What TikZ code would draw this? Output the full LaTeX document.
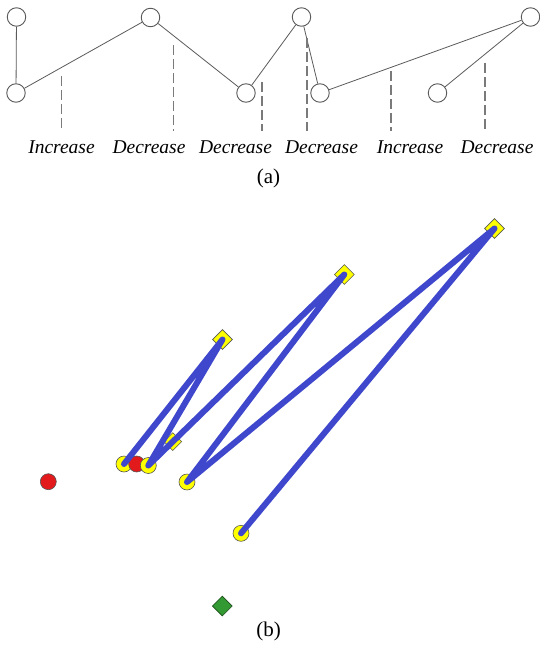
\documentclass[tikz,border=0pt]{standalone}
\usepackage{fontspec}
\setmainfont{Liberation Serif}
\usepackage{tikz}
\usetikzlibrary{positioning, shapes.geometric, calc}
\definecolor{edgeGray}{HTML}{5A5A5A}
\definecolor{guideGray}{HTML}{7A7A7A}
\definecolor{trackBlue}{HTML}{3F48CC}
\definecolor{markYellow}{HTML}{FFFF00}
\definecolor{markRed}{HTML}{E31A1C}
\definecolor{markGreen}{HTML}{339933}
\definecolor{markEdge}{HTML}{555555}

\begin{document}
\begin{tikzpicture}[x=1pt, y=-1pt,
        every node/.style={font=\fontsize{19.5}{22}\selectfont},
        vtx/.style={circle, draw=edgeGray, line width=0.9pt, fill=white,
                    minimum size=18.5pt, inner sep=0pt},
        link/.style={draw=edgeGray, line width=0.8pt},
        guide/.style={draw=guideGray, line width=1.2pt, dash pattern=on 10pt off 4pt,
                      shorten >=7pt},
        trend/.style={font=\fontsize{19.5}{22}\selectfont\itshape, anchor=base, inner sep=2pt},
        panelTag/.style={font=\fontsize{21}{25}\selectfont, anchor=base},
        spot/.style={circle, draw=markEdge, line width=0.6pt, minimum size=16pt, inner sep=0pt},
        ySpot/.style={spot, fill=markYellow},
        rSpot/.style={spot, fill=markRed},
        turn/.style={diamond, draw=markEdge, line width=0.6pt, fill=markYellow,
                     minimum width=20pt, minimum height=20pt, inner sep=0pt},
        track/.style={draw=trackBlue, line width=6pt, line cap=round, line join=round},
      ]
        \useasboundingbox (0,0) rectangle (539,645);

        % (a) zig-zag of local extrema
        \node[vtx] (a1) at (16.5,17) {};
        \node[vtx] (a2) at (16,93) {};
        \node[vtx] (a3) at (150.5,17.5) {};
        \node[vtx] (a4) at (246,93) {};
        \node[vtx] (a5) at (301.5,17) {};
        \node[vtx] (a6) at (320,93) {};
        \node[vtx] (a7) at (530.5,17) {};
        \node[vtx] (a8) at (437.5,93) {};
        \draw[link] (a1) -- (a2);
        \draw[link] (a2) -- (a3);
        \draw[link] (a3) -- (a4);
        \draw[link] (a4) -- (a5);
        \draw[link] (a5) -- (a6);
        \draw[link] (a6) -- (a7);
        \draw[link] (a7) -- (a8);

        \node[trend] (lab1) at (61.5,153) {Increase};
        \node[trend] (lab2) at (149,153) {Decrease};
        \node[trend] (lab3) at (235.5,153) {Decrease};
        \node[trend] (lab4) at (321.5,153) {Decrease};
        \node[trend] (lab5) at (410,153) {Increase};
        \node[trend] (lab6) at (497,153) {Decrease};

        \coordinate (g1) at (61.5,76);
        \coordinate (g2) at (173.5,45);
        \coordinate (g3) at (262,82);
        \coordinate (g4) at (307,38);
        \coordinate (g5) at (391,71);
        \coordinate (g6) at (485,63);
        \foreach \i in {1,...,6}
          \draw[guide] (g\i) -- (g\i |- lab\i.north);

        \node[panelTag] (tagA) at (268.5,183.5) {(a)};

        % (b) trajectory
        \node[rSpot] (r0) at (48.3,481.7) {};
        \node[ySpot] (y1) at (124,464) {};
        \node[rSpot] (r1) at (136.7,464) {};
        \node[ySpot] (y2) at (148.3,465.5) {};
        \node[ySpot] (y3) at (187,482) {};
        \node[ySpot] (y4) at (241,533.3) {};
        \node[turn] (d1) at (222.5,339.5) {};
        \node[turn] (d2) at (344.3,274.5) {};
        \node[turn] (d3) at (494.5,228.5) {};
        \node[turn, minimum width=18pt, minimum height=18pt] (d0) at ($(y2)!0.125!(d2)$) {};
        \node[turn, fill=markGreen, draw=markGreen!50!black] (goal) at (222.3,606) {};

        \draw[track] (y1.center) -- (d1.center) -- (y2.center) -- (d2.center)
                     -- (y3.center) -- (d3.center) -- (y4.center);

        \node[panelTag] (tagB) at (268.5,636.5) {(b)};
      \end{tikzpicture}
\end{document}
